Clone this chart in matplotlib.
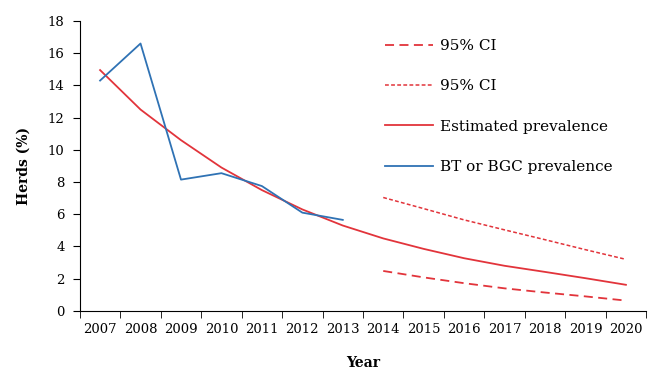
import numpy as np
import matplotlib
matplotlib.use("Agg")
import matplotlib.pyplot as plt

years = ["2007", "2008", "2009", "2010", "2011", "2012", "2013",
         "2014", "2015", "2016", "2017", "2018", "2019", "2020"]

# observed BT or BGC prevalence, 2007-2013
bt_bgc = [14.3, 16.6, 8.15, 8.55, 7.75, 6.1, 5.65]
# estimated prevalence, 2007-2020
estimated = [14.95, 12.5, 10.6, 8.9, 7.5, 6.3, 5.3,
             4.5, 3.85, 3.27, 2.8, 2.42, 2.03, 1.62]
# confidence interval, 2014-2020
ci_lower = [2.48, 2.08, 1.72, 1.4, 1.14, 0.9, 0.64]
ci_upper = [7.04, 6.35, 5.65, 5.03, 4.42, 3.8, 3.2]

red = "#e2343b"
blue = "#2f72b4"

plt.rcParams['font.family'] = ['DejaVu Serif']

fig = plt.figure(figsize=(6.6, 3.81), dpi=100)
ax = fig.add_axes([0.121, 0.184, 0.858, 0.761])

x_all = np.arange(len(years))
x_bt = x_all[:len(bt_bgc)]
x_ci = x_all[-len(ci_lower):]

ax.plot(x_ci, ci_lower, color=red, lw=1.3, dashes=(5, 3), label="95% CI")
ax.plot(x_ci, ci_upper, color=red, lw=1.1, dashes=(2.5, 1.5), label="95% CI")
ax.plot(x_all, estimated, color=red, lw=1.3, label="Estimated prevalence")
ax.plot(x_bt, bt_bgc, color=blue, lw=1.3, label="BT or BGC prevalence")

ax.set_xlim(-0.5, len(years) - 0.5)
ax.set_ylim(0, 18)
ax.set_yticks(range(0, 19, 2))
ax.set_xticks(x_all)
ax.set_xticklabels(years)
ax.set_xticks(np.arange(-0.5, len(years), 1), minor=True)
ax.tick_params(axis='x', which='major', length=0, pad=9, labelsize=9.5)
ax.tick_params(axis='x', which='minor', length=5, direction='out')
ax.tick_params(axis='y', length=5, direction='out', labelsize=9.5, pad=6)

for s in ["top", "right"]:
    ax.spines[s].set_visible(False)

ax.set_xlabel("Year", fontweight='bold', fontsize=10, labelpad=14)
ax.set_ylabel("Herds (%)", fontweight='bold', fontsize=10, labelpad=12)

ax.legend(loc='upper left', bbox_to_anchor=(0.515, 0.985), frameon=False,
          fontsize=11, handlelength=3.1, labelspacing=1.72, handletextpad=0.5)

fig.savefig("out.png", dpi=100)
